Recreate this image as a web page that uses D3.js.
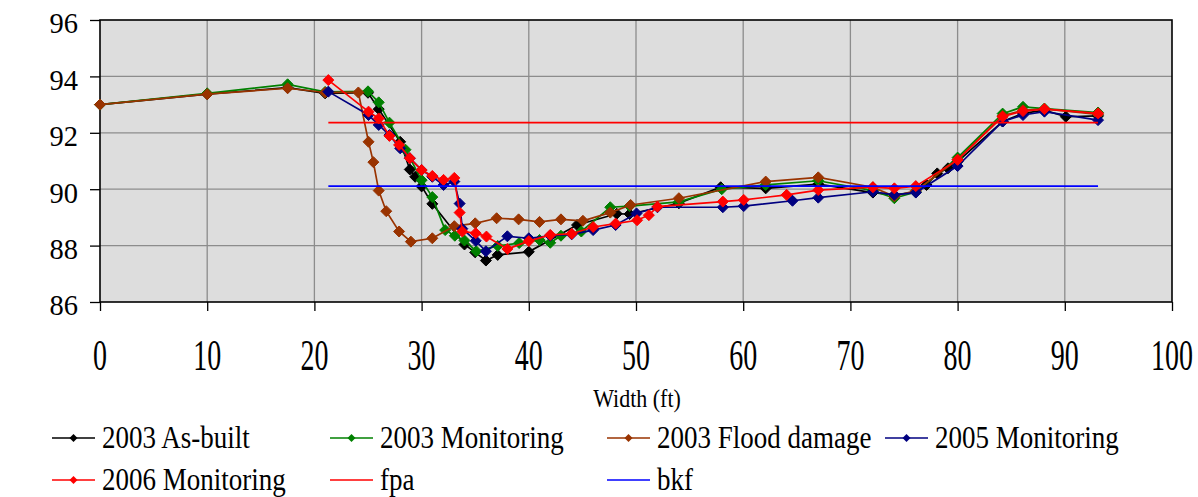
<!DOCTYPE html>
<html>
<head>
<meta charset="utf-8">
<script src="https://cdn.jsdelivr.net/npm/d3@7"></script>
<style>
  body { margin: 0; background: #fff; }
</style>
</head>
<body>
<div class="chart"></div>
<script>
// series
var asBuiltX = [0, 10, 17.5, 21, 25, 26, 28, 28.9, 29.4, 30, 31, 34, 35, 36, 37.1, 40, 44.5, 48.2, 49.4, 54, 57.9, 62.1, 67, 72.1, 74.1, 76.1, 77.1, 78.1, 79.1, 80, 84.2, 86.1, 88.1, 90.1, 93.1];
var asBuiltY = [93.0, 93.37, 93.6, 93.4, 93.42, 92.84, 91.68, 90.7, 90.44, 90.1, 89.48, 88.04, 87.76, 87.47, 87.67, 87.78, 88.73, 89.13, 89.12, 89.5, 90.07, 90.03, 90.18, 89.88, 89.8, 89.9, 90.15, 90.56, 90.74, 90.98, 92.4, 92.69, 92.8, 92.57, 92.6];

var mon03X = [0, 10, 17.5, 21, 25, 26, 27, 28.5, 30, 31, 32.2, 33.1, 34, 35.1, 37.1, 39.1, 41, 42, 43, 44.9, 47.6, 49.4, 54, 58, 62.1, 67, 72.1, 74.1, 76.1, 80, 84.2, 86.1, 88.1, 93.1];
var mon03Y = [93.0, 93.4, 93.72, 93.45, 93.47, 93.08, 92.36, 91.4, 90.32, 89.72, 88.55, 88.35, 88.18, 87.8, 87.99, 88.09, 88.2, 88.1, 88.35, 88.5, 89.36, 89.4, 89.55, 90.0, 90.15, 90.3, 89.95, 89.68, 89.9, 91.12, 92.68, 92.92, 92.86, 92.72];

var floodX = [0, 10, 17.5, 21, 24.1, 25.05, 25.5, 26, 26.7, 27.9, 29, 31, 33.05, 35, 37, 39.05, 41, 43, 45.05, 47.6, 49.5, 54, 62.1, 67, 72.1, 74.1, 76.1, 80, 84.2, 86.1, 88.1, 93.1];
var floodY = [93.0, 93.37, 93.58, 93.43, 93.43, 91.68, 90.96, 89.95, 89.22, 88.5, 88.14, 88.26, 88.69, 88.79, 88.97, 88.93, 88.84, 88.93, 88.88, 89.17, 89.44, 89.68, 90.27, 90.42, 90.07, 89.75, 89.95, 91.05, 92.6, 92.8, 92.85, 92.65];

var mon05X = [21.3, 25.05, 26, 27, 28, 28.9, 30, 31, 32.05, 33.05, 33.55, 33.8, 35.05, 36, 38, 40, 42, 44, 46, 48.1, 50.05, 52, 58.1, 60.05, 64.6, 67, 72.1, 74.1, 76.1, 80, 84.2, 86.1, 88.1, 93.1];
var mon05Y = [93.46, 92.63, 92.28, 91.92, 91.45, 91.1, 90.68, 90.44, 90.15, 90.27, 89.49, 88.6, 88.17, 87.8, 88.33, 88.26, 88.35, 88.4, 88.55, 88.73, 89.14, 89.36, 89.36, 89.4, 89.59, 89.7, 89.91, 89.8, 89.88, 90.82, 92.4, 92.63, 92.75, 92.45];

var mon06X = [21.3, 25.05, 26, 27, 27.9, 28.9, 30, 31, 32.05, 33.05, 33.55, 33.8, 35.05, 36.05, 38, 40, 42, 44, 46, 48.1, 50.1, 51.2, 52, 58.1, 60.05, 64.05, 67, 72.1, 74.1, 76.1, 80, 84.2, 86.1, 88.1, 93.1];
var mon06Y = [93.87, 92.75, 92.51, 91.89, 91.57, 91.1, 90.68, 90.47, 90.33, 90.4, 89.17, 88.5, 88.44, 88.32, 87.88, 88.16, 88.38, 88.42, 88.66, 88.78, 88.9, 89.08, 89.38, 89.56, 89.62, 89.8, 89.97, 90.07, 90.03, 90.11, 91.04, 92.57, 92.77, 92.84, 92.69];

var fpaX = [21.3, 93.1];
var fpaY = [92.36, 92.36];
var bkfX = [21.3, 93.1];
var bkfY = [90.11, 90.11];

var xTicks = [0, 10, 20, 30, 40, 50, 60, 70, 80, 90, 100];
var yTicks = [86, 88, 90, 92, 94, 96];

var seriesNames = ["2003 As-built", "2003 Monitoring", "2003 Flood damage", "2005 Monitoring", "2006 Monitoring", "fpa", "bkf"];

var w = 1198, h = 497;
var plot = { left: 100, right: 1172, top: 20, bottom: 302 };
var serif = "'Liberation Serif', 'Times New Roman', Times, serif";

var svg = d3.select("div.chart")
            .append("svg")
            .attr("width", w)
            .attr("height", h)
            .style("font-family", serif);

var x = d3.scaleLinear().domain([0, 100]).range([plot.left, plot.right]);
var y = d3.scaleLinear().domain([86, 96]).range([plot.bottom, plot.top]);

function zip(xs, ys) { return xs.map((v, i) => ({ x: v, y: ys[i] })); }

var series = [
  { name: seriesNames[0], color: "#000000", pts: zip(asBuiltX, asBuiltY), marker: true },
  { name: seriesNames[1], color: "#008000", pts: zip(mon03X, mon03Y), marker: true },
  { name: seriesNames[2], color: "#993300", pts: zip(floodX, floodY), marker: true },
  { name: seriesNames[3], color: "#000080", pts: zip(mon05X, mon05Y), marker: true },
  { name: seriesNames[4], color: "#FF0000", pts: zip(mon06X, mon06Y), marker: true },
  { name: seriesNames[5], color: "#FF0000", pts: zip(fpaX, fpaY), marker: false },
  { name: seriesNames[6], color: "#0000FF", pts: zip(bkfX, bkfY), marker: false }
];

function diamond(r) { return `M0,${-r}L${r},0L0,${r}L${-r},0Z`; }

// text in the original is drawn taller than it is wide, so scale it in y
function stretchedText(g, tx, ty, str, size, anchor, sy) {
  return g.append("text")
          .attr("transform", `translate(${tx},${ty}) scale(1,${sy})`)
          .attr("text-anchor", anchor || "start")
          .attr("font-family", serif)
          .attr("font-size", size)
          .attr("fill", "#000")
          .text(str);
}

//plot background
svg.append("rect")
   .attr("x", plot.left).attr("y", plot.top)
   .attr("width", plot.right - plot.left)
   .attr("height", plot.bottom - plot.top)
   .attr("fill", "#dddddd");

//gridlines
svg.append("g")
   .selectAll("line")
   .data(xTicks.slice(1, -1))
   .enter()
   .append("line")
     .attr("x1", d => x(d)).attr("x2", d => x(d))
     .attr("y1", plot.top).attr("y2", plot.bottom)
     .attr("stroke", "#8c8c8c").attr("stroke-width", 1.3);

svg.append("g")
   .selectAll("line")
   .data(yTicks.slice(1, -1))
   .enter()
   .append("line")
     .attr("x1", plot.left).attr("x2", plot.right)
     .attr("y1", d => y(d)).attr("y2", d => y(d))
     .attr("stroke", "#8c8c8c").attr("stroke-width", 1.3);

//axes, ticks only, labels drawn separately
svg.append("g")
   .attr("transform", `translate(0,${plot.bottom})`)
   .call(d3.axisBottom(x).tickValues(xTicks).tickSize(9).tickFormat(""));
svg.append("g")
   .attr("transform", `translate(${plot.left},0)`)
   .call(d3.axisLeft(y).tickValues(yTicks).tickSize(10).tickFormat(""));
svg.selectAll(".domain").remove();
svg.selectAll(".tick line").attr("stroke", "#000").attr("stroke-width", 1.3);

//frame
svg.append("rect")
   .attr("x", plot.left).attr("y", plot.top)
   .attr("width", plot.right - plot.left)
   .attr("height", plot.bottom - plot.top)
   .attr("fill", "none")
   .attr("stroke", "#000")
   .attr("stroke-width", 1.6);

//tick labels
var labels = svg.append("g");
xTicks.forEach(t => stretchedText(labels, x(t), 370, String(t), 28, "middle", 1.55));
yTicks.forEach(t => stretchedText(labels, 78, y(t) + 13.3, String(t), 28.5, "end", 1.04));

//axis titles
stretchedText(labels, 637, 406.5, "Width (ft)", 22, "middle", 1.15);

svg.append("clipPath").attr("id", "ylabclip")
   .append("rect").attr("x", 0).attr("y", 97).attr("width", 60).attr("height", 200);
svg.append("text")
   .attr("clip-path", "url(#ylabclip)")
   .attr("transform", "translate(32,230) rotate(-90)")
   .attr("font-family", serif)
   .attr("font-size", 26.5)
   .text("Elevation (ft)");

//series lines
var line = d3.line().x(d => x(d.x)).y(d => y(d.y));

series.forEach(function(s){
  var g = svg.append("g");
  g.append("path")
   .datum(s.pts)
   .attr("d", line)
   .attr("fill", "none")
   .attr("stroke", s.color)
   .attr("stroke-width", 1.7);
  if(s.marker){
    g.selectAll("path.mk")
     .data(s.pts)
     .enter()
     .append("path")
       .attr("class", "mk")
       .attr("transform", d => `translate(${x(d.x)},${y(d.y)})`)
       .attr("d", diamond(5.5))
       .attr("fill", s.color)
       .attr("stroke", s.color)
       .attr("stroke-width", 1);
  }
});

//legend
var legCols = [52, 330, 607, 885];
var legRows = [438, 480];
var legend = svg.append("g");
series.forEach(function(s, i){
  var lx = legCols[i % 4];
  var ly = legRows[Math.floor(i / 4)];
  legend.append("line")
        .attr("x1", lx).attr("x2", lx + 43)
        .attr("y1", ly).attr("y2", ly)
        .attr("stroke", s.color).attr("stroke-width", 1.6);
  if(s.marker){
    legend.append("path")
          .attr("transform", `translate(${lx + 21.5},${ly})`)
          .attr("d", diamond(4))
          .attr("fill", s.color);
  }
  stretchedText(legend, lx + 50, ly + 10, s.name, 27, "start", 1.2);
});
</script>
</body>
</html>
